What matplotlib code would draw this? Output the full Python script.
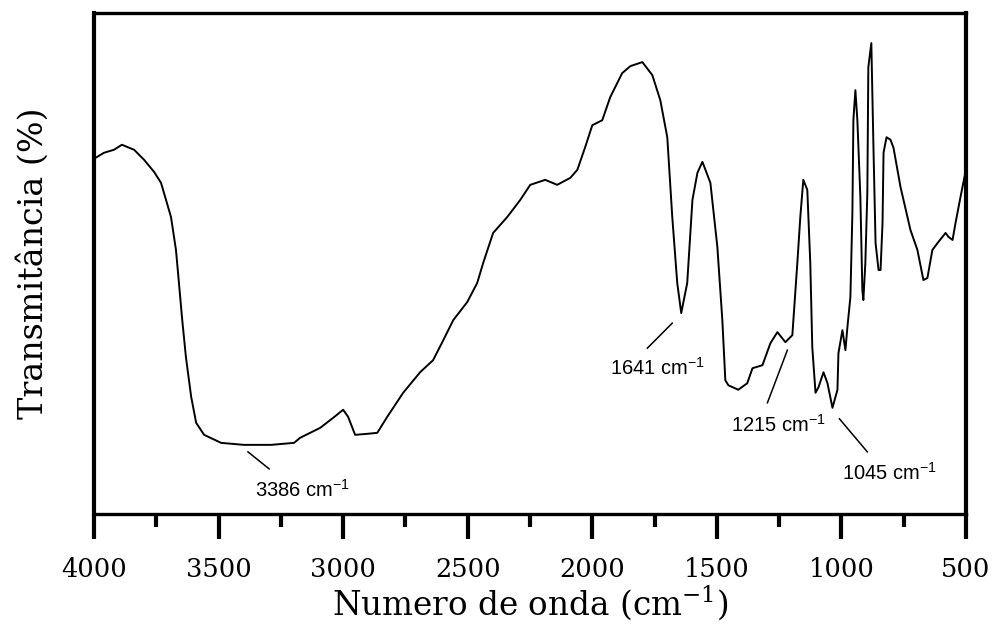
import matplotlib
matplotlib.use("Agg")
import matplotlib.pyplot as plt
from matplotlib.ticker import MultipleLocator

# FTIR spectrum (wavenumber in cm-1, transmittance in arbitrary %)
wavenumber = [4000, 3960, 3920, 3888, 3839, 3799, 3759, 3731, 3711, 3691,
              3671, 3659, 3647, 3631, 3610, 3590, 3558, 3490, 3398, 3289,
              3197, 3173, 3092, 3040, 3000, 2980, 2952, 2904, 2863, 2823,
              2759, 2691, 2639, 2598, 2558, 2502, 2462, 2438, 2398, 2341,
              2289, 2249, 2189, 2141, 2088, 2060, 2028, 2000, 1960, 1928,
              1880, 1847, 1799, 1759, 1727, 1699, 1679, 1659, 1643, 1619,
              1598, 1578, 1558, 1526, 1498, 1478, 1466, 1454, 1414, 1378,
              1357, 1317, 1285, 1257, 1225, 1197, 1177, 1165, 1153, 1137,
              1125, 1117, 1104, 1092, 1072, 1056, 1036, 1016, 1012, 996,
              984, 976, 964, 956, 952, 944, 936, 924, 916, 912,
              904, 896, 892, 880, 871, 863, 851, 843, 835, 831,
              819, 803, 791, 763, 723, 695, 671, 655, 635, 614,
              582, 570, 554, 542, 522, 502]
transmittance = [70.9, 72.1, 72.7, 73.7, 72.7, 70.7, 68.3, 66.1, 62.7, 59.3,
                 52.7, 46.1, 39.3, 31.3, 23.4, 18.2, 15.8, 14.2, 13.8, 13.8,
                 14.2, 15.2, 17.2, 19.2, 20.8, 19.4, 15.8, 16.0, 16.2, 19.4,
                 24.2, 28.3, 30.7, 34.7, 38.7, 42.3, 46.1, 50.1, 56.1, 59.3,
                 62.7, 65.7, 66.7, 65.7, 67.1, 68.7, 73.3, 77.6, 78.6, 83.2,
                 88.0, 89.4, 90.2, 87.6, 82.6, 75.2, 59.3, 46.1, 40.1, 46.1,
                 62.7, 68.1, 70.3, 66.1, 53.3, 38.7, 26.7, 25.7, 24.8, 26.1,
                 29.1, 29.7, 34.1, 36.3, 34.3, 35.7, 50.1, 59.3, 66.7, 64.7,
                 50.1, 33.3, 24.2, 25.3, 28.3, 26.1, 21.2, 24.8, 32.1, 36.7,
                 32.7, 37.3, 43.3, 60.1, 78.6, 84.6, 78.6, 63.3, 44.7, 42.7,
                 50.1, 64.1, 89.2, 94.0, 72.1, 54.1, 48.7, 48.7, 58.1, 72.1,
                 75.2, 74.7, 73.1, 65.3, 56.7, 52.7, 46.7, 47.1, 52.7, 54.1,
                 56.1, 55.3, 54.7, 58.1, 63.3, 68.3]

# Peak annotations: label, line start (wn, T), line end (wn, T), text pos (wn, T)
peak_labels = ["3386", "1641", "1215", "1045"]
line_start = [(3382, 12.4), (1679, 38.1), (1217, 32.7), (1008, 19.0)]
line_end = [(3297, 9.0), (1779, 33.1), (1297, 22.2), (896, 12.4)]
text_pos = [(3165, 4.8), (1739, 29.1), (1253, 17.8), (807, 8.2)]

x_ticks = [4000, 3500, 3000, 2500, 2000, 1500, 1000, 500]

fig = plt.figure(figsize=(10, 6.25), dpi=100)
ax = fig.add_axes([0.094, 0.1776, 0.872, 0.8016])

ax.plot(wavenumber, transmittance, color="black", lw=1.4)

for lab, s, e, t in zip(peak_labels, line_start, line_end, text_pos):
    ax.plot([s[0], e[0]], [s[1], e[1]], color="black", lw=1.1)
    ax.text(t[0], t[1], lab + r" cm$^{\mathregular{-1}}$", ha="center", va="center",
            fontsize=14.5, family="Liberation Sans")

ax.set_xlim(4000, 500)
ax.set_ylim(0, 100)
ax.set_xticks(x_ticks)
ax.set_xticklabels([str(v) for v in x_ticks], family="DejaVu Serif", fontsize=18.5)
ax.xaxis.set_minor_locator(MultipleLocator(250))
ax.tick_params(axis="x", which="major", direction="out", length=18, width=3, pad=13)
ax.tick_params(axis="x", which="minor", direction="out", length=9, width=3)
ax.set_yticks([])

ax.spines["left"].set_linewidth(3.0)
ax.spines["right"].set_linewidth(3.0)
ax.spines["top"].set_linewidth(2.4)
ax.spines["bottom"].set_linewidth(2.4)

ax.set_xlabel(r"Numero de onda (cm$^{\mathregular{-1}}$)", family="DejaVu Serif",
              fontsize=23.5, labelpad=1)
ax.set_ylabel("Transmitância (%)", family="DejaVu Serif", fontsize=24, labelpad=32)

fig.savefig("out.png", dpi=100)
